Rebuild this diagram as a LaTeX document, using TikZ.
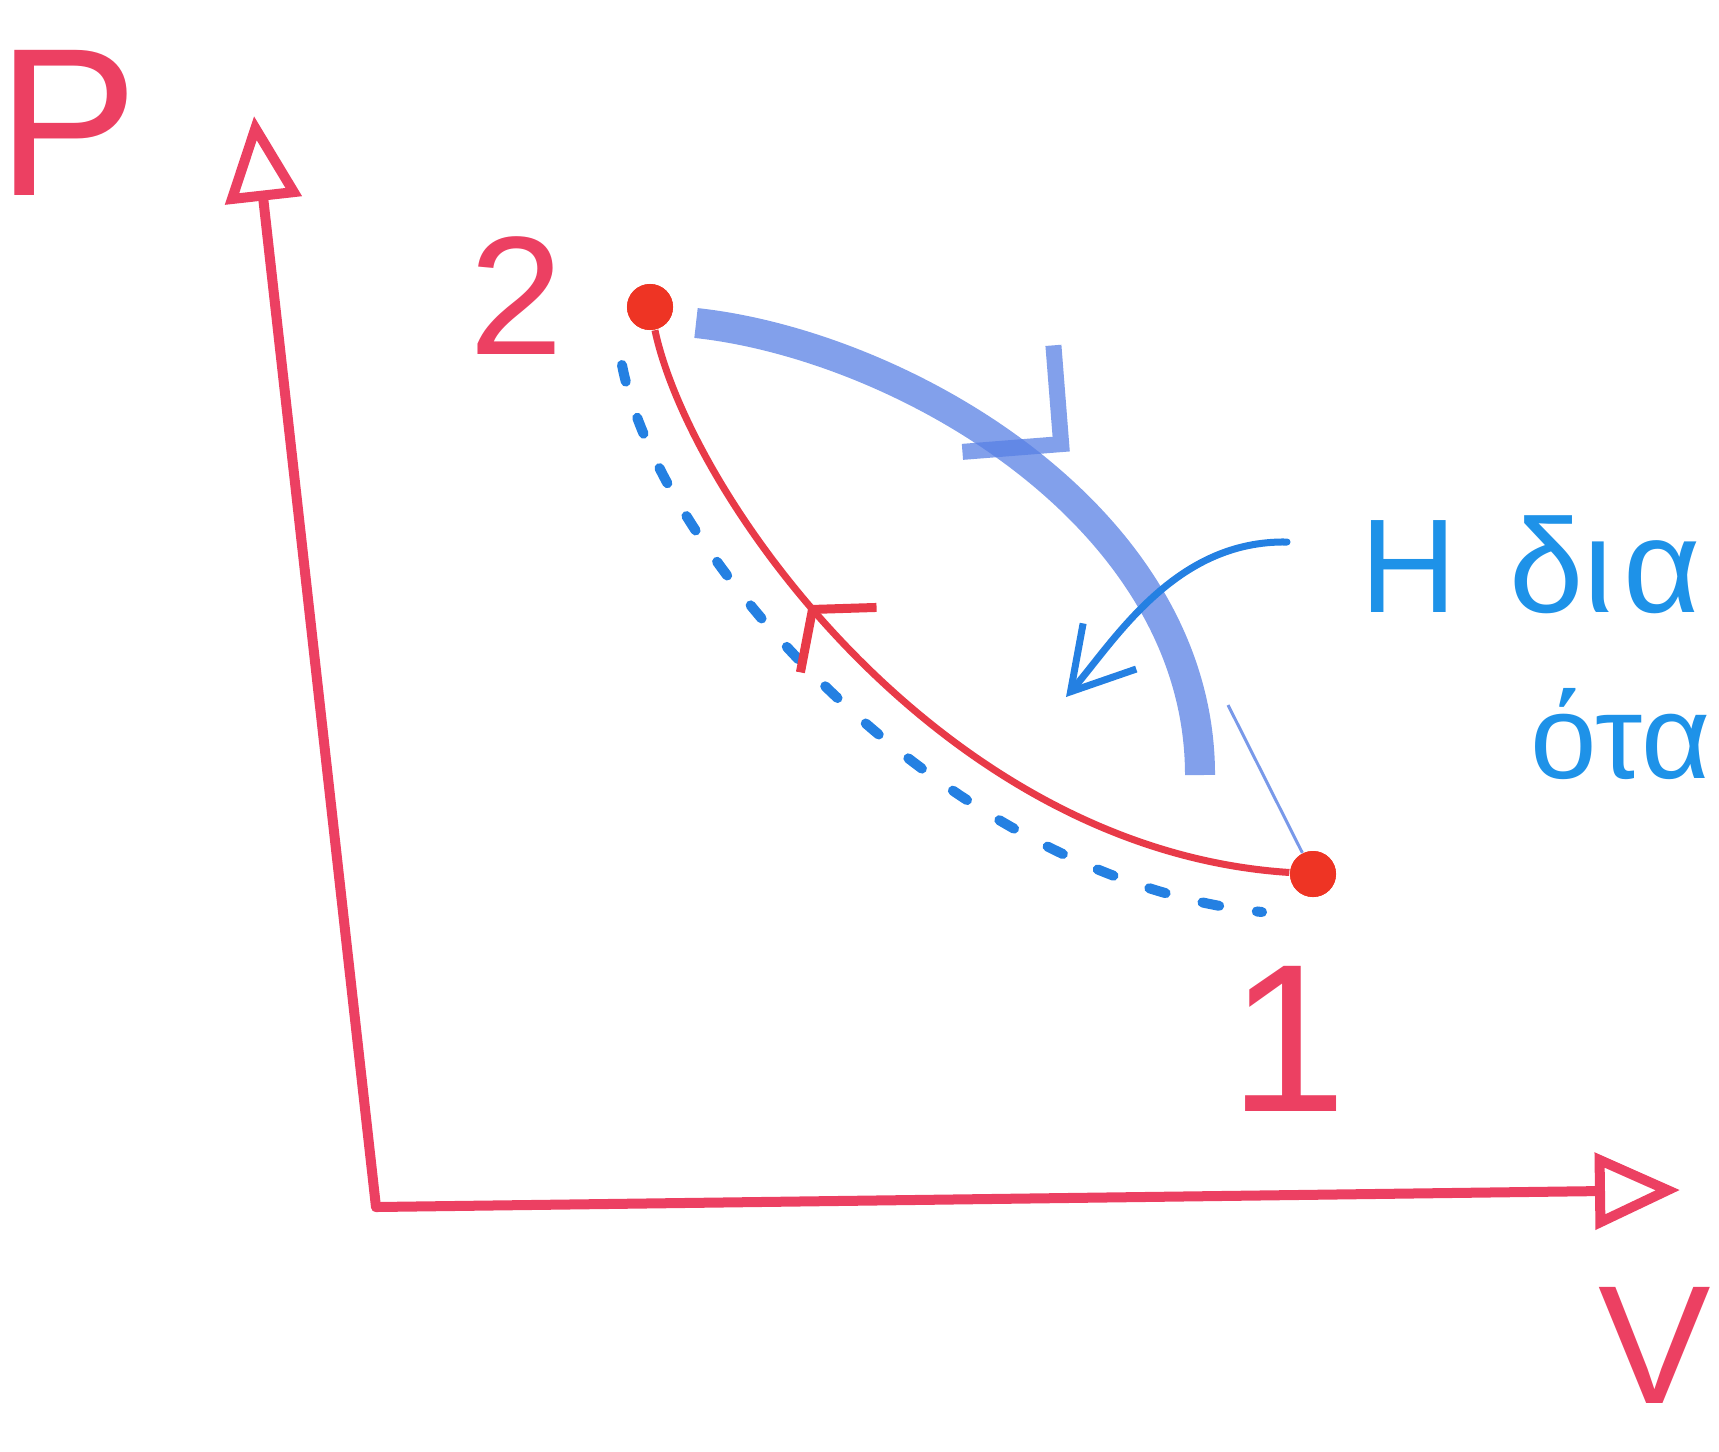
\documentclass[tikz,border=0pt]{standalone}
\usepackage{fontspec}
\setmainfont{Liberation Sans}
\usetikzlibrary{positioning,arrows.meta,decorations.markings}
\definecolor{pvAxis}{RGB}{236,64,98}
\definecolor{pvRed}{RGB}{232,58,72}
\definecolor{pvDot}{RGB}{238,52,36}
\definecolor{pvBlue}{RGB}{36,128,226}
\definecolor{pvBrush}{RGB}{88,128,228}
\definecolor{pvText}{RGB}{30,146,232}

\begin{document}
\begin{tikzpicture}[
    x=0.01cm, y=-0.01cm,
    axis line/.style={draw=pvAxis, line width=0.1cm, line cap=round, -{Triangle[open, length=0.85cm, width=0.75cm]}},
    state dot/.style={circle, fill=pvDot, inner sep=0pt, minimum size=0.46cm},
    hand label/.style={text=pvAxis, inner sep=0pt, font=\fontsize{48}{48}\selectfont},
    path line/.style={draw=pvRed, line width=0.07cm},
    ideal line/.style={draw=pvBlue, line width=0.1cm, line cap=round, dash pattern=on 0.17cm off 0.38cm},
    brush line/.style={draw=pvBrush, line width=0.3cm, opacity=0.75},
    note text/.style={text=pvText, inner sep=0pt, anchor=base west, font=\fontsize{38}{38}\selectfont}
]
  \useasboundingbox (0,0) rectangle (1719,1451);
  \clip (0,0) rectangle (1719,1451);

  % axes
  \coordinate (origin) at (376,1207);
  \coordinate (ptip) at (254,116);
  \coordinate (vtip) at (1680,1190);
  \draw[axis line] (origin) -- (ptip);
  \draw[axis line] (origin) -- (vtip);
  \node[hand label, font=\fontsize{60}{60}\selectfont] (lblP) at (68,123) {P};
  \node[hand label, font=\fontsize{48}{48}\selectfont] (lblV) at (1655,1345) {V};

  % states
  \node[state dot] (s2) at (650,307) {};
  \node[state dot] (s1) at (1313,874) {};

  % process sweep
  \coordinate (brushA) at (696,323);
  \coordinate (brushB) at (1200,775);
  \coordinate (thinA) at (1228,705);
  \draw[brush line, decoration={markings, mark=at position 0.53 with {\pgftransformyshift{0.35cm}\arrow[line width=0.16cm]{Straight Barb[length=0.7cm, width=1.4cm]}}}, postaction={decorate}]
    (brushA) .. controls (900,345) and (1200,515) .. (brushB);
  \draw[draw=pvBrush, line width=0.03cm, opacity=0.8] (thinA) -- (s1);

  % quasi-static path
  \coordinate (dashA) at (622,365);
  \coordinate (dashB) at (1262,912);
  \draw[ideal line] (dashA) .. controls (660,560) and (950,880) .. (dashB);

  % actual path 1 -> 2
  \draw[path line, decoration={markings, mark=at position 0.64 with {\arrow[line width=0.09cm]{Straight Barb[length=0.4cm, width=1.0cm]}}}, postaction={decorate}]
    (s1) .. controls (940,850) and (690,495) .. (s2);
  \node[state dot] at (s2) {};
  \node[state dot] at (s1) {};
  \node[hand label] (lbl2) [left=0.62cm of s2, yshift=0.11cm] {2};
  \node[hand label, font=\fontsize{60}{60}\selectfont] (lbl1) [below=0.68cm of s1, xshift=-0.25cm] {1};

  % note
  \coordinate (noteA) at (1287,542);
  \coordinate (noteB) at (1066,697);
  \draw[draw=pvBlue, line width=0.07cm, line cap=round, -{Straight Barb[length=0.6cm, width=0.7cm]}]
    (noteA) .. controls (1175,540) and (1115,640) .. (noteB);
  \node[note text] (note1) at (1360,612) {Η\hspace{0.52cm}δι\hspace{0.1cm}α};
  \node[note text, font=\fontsize{34}{34}\selectfont] (note2) at (1530,778) {ότα};
\end{tikzpicture}
\end{document}
